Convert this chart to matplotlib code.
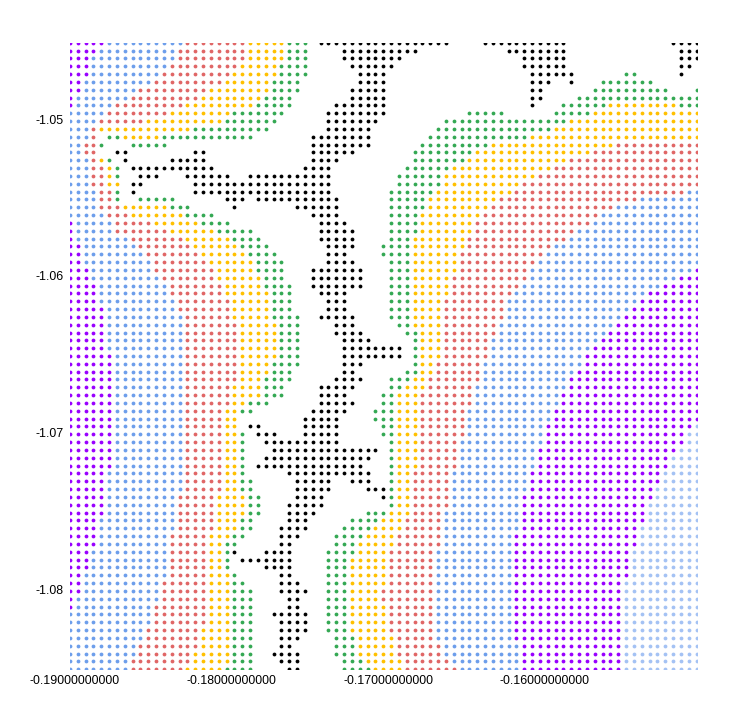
import matplotlib
matplotlib.use('Agg')
import matplotlib.pyplot as plt

plt.rcParams['font.family'] = ['Liberation Sans', 'DejaVu Sans']

# each row: class letter + last column of that run, '.' means no point there
rows = [
    "P4 B14 R22 Y27 G30 .31 K48 .52 K63 .76 K80",
    "P3 B13 R22 Y27 G30 .34 K44 .55 K63 .77 K80",
    "P2 B13 R22 Y27 G30 .34 K42 .57 K63 .77 K80",
    "P2 B12 R21 Y26 G30 .35 K41 .57 K63 .77 K79",
    "P2 B11 R20 Y26 G30 .36 K40 .58 K64 .70 G72 .77 K78",
    "P1 B10 R19 Y25 G29 .36 K40 .58 K61 .63 K64 .67 G74",
    "P1 B8 R17 Y25 G29 .35 K40 .58 K60 .66 G76 .79 G80",
    "P0 B7 R16 Y24 G28 .35 K40 .58 K60 .64 G80",
    "P0 B5 R14 Y23 G28 .33 K40 .58 K59 .62 G68 Y77 G80",
    "B4 R12 Y20 G27 .32 K40 .50 G55 .61 G66 Y80",
    "B3 R9 Y19 G26 .32 K39 .47 G63 Y80",
    "B2 R3 Y15 G25 .32 K38 .46 G61 Y80",
    "B2 R3 .4 G6 Y11 G23 .30 K38 .45 G58 Y80",
    "B1 R3 G4 .7 G12 .30 K38 .44 G53 Y69 R80",
    "B1 R3 .5 K7 .15 K17 .30 K36 .43 G51 Y66 R80",
    "B2 R3 Y4 G5 .6 K7 .12 K17 .30 K34 .43 G50 Y63 R80",
    "B2 R4 Y5 G6 .7 K18 .29 K33 .42 G48 Y61 R80",
    "B2 R4 Y5 G6 .8 K11 .14 K20 .22 K33 .41 G47 Y59 R80",
    "B2 R4 Y6 .7 K9 .15 K33 .41 G47 Y57 R80",
    "B3 R5 G6 .7 K8 .15 K33 .40 G46 Y56 R78 B80",
    "B3 R5 G6 .8 G13 .19 K22 .23 K34 .40 G45 Y54 R72 B80",
    "B3 R6 Y12 G15 .20 K21 .28 K34 .40 G45 Y53 R69 B80",
    "B4 R7 Y14 G18 .30 K34 .40 G44 Y52 R67 B80",
    "P0 B5 R10 Y16 G20 .31 K35 .40 G44 Y51 R66 B80",
    "P0 B5 R12 Y18 G23 .31 K36 .40 G44 Y51 R64 B80",
    "P0 B7 R14 Y20 G24 .31 K36 .40 G43 Y50 R63 B80",
    "P1 B8 R15 Y21 G25 .32 K36 .39 G43 Y50 R61 B80",
    "P1 B9 R16 Y22 G26 .32 K35 .39 G43 Y49 R60 B80",
    "P1 B10 R17 Y23 G27 .32 K36 .40 G43 Y49 R59 B80",
    "P2 B10 R18 Y23 G27 .30 K37 .40 G43 Y49 R58 B79 P80",
    "P2 B11 R18 Y24 G27 .30 K37 .40 G43 Y48 R58 B77 P80",
    "P3 B12 R19 Y24 G28 .30 K37 .40 G43 Y48 R57 B75 P80",
    "P3 B12 R19 Y25 G28 .31 K35 .40 G43 Y48 R56 B73 P80",
    "P3 B13 R20 Y25 G28 .32 K35 .40 G43 Y47 R55 B72 P80",
    "P4 B13 R20 Y25 G28 .32 K35 .40 G43 Y47 R55 B71 P80",
    "P4 B14 R20 Y25 G29 .31 K36 .40 G43 Y47 R55 B70 P80",
    "P4 B14 R21 Y26 G29 .33 K36 .41 G43 Y47 R54 B69 P80",
    "P4 B14 R21 Y26 G29 .33 K37 .42 G44 Y47 R54 B68 P80",
    "P4 B14 R21 Y26 G29 .34 K38 .43 G44 Y47 R53 B67 P80",
    "P4 B14 R21 Y26 G29 .34 K42 .43 G44 Y47 R53 B66 P80",
    "P5 B14 R21 Y26 G29 .34 K42 .43 G44 Y47 R53 B65 P80",
    "P5 B14 R21 Y25 G29 .34 K37 .43 G44 Y46 R52 B65 P80",
    "P5 B14 R21 Y25 G28 .34 K36 .42 G44 Y46 R52 B64 P80",
    "P5 B14 R21 Y24 G28 .33 K37 .40 G43 Y45 R52 B63 P80",
    "P5 B14 R20 Y24 G27 .31 K36 .40 G42 Y45 R51 B63 P80",
    "P5 B14 R20 Y24 G27 .31 K35 .39 G41 Y44 R51 B62 P80",
    "P5 B14 R20 Y22 G25 .31 K36 .39 G41 Y44 R51 B62 P80",
    "P5 B14 R19 Y21 G23 .30 K35 .38 G41 Y44 R50 B61 P80",
    "P5 B14 R19 Y21 .29 K34 .38 G41 Y44 R50 B61 P80",
    "P5 B14 R19 Y21 .22 K24 .29 K34 .39 G41 Y44 R50 B60 P79 L80",
    "P5 B14 R19 Y21 G22 .23 K26 .29 K34 .39 G41 Y44 R50 B60 P78 L80",
    "P5 B14 R19 Y21 G22 .24 K34 .40 G41 Y44 R49 B60 P78 L80",
    "P5 B14 R19 Y21 G22 .25 K39 .40 G41 Y44 R49 B59 P77 L80",
    "P5 B14 R19 Y21 G22 .24 K38 .40 G41 Y44 R49 B59 P76 L80",
    "P5 B14 R19 Y21 G22 .23 K37 .40 G41 Y44 R49 B59 P76 L80",
    "P4 B14 R19 Y21 G22 .27 K38 .40 G41 Y43 R48 B58 P75 L80",
    "P4 B14 R19 Y21 G23 .28 K33 .35 K38 .40 G41 Y43 R48 B58 P75 L80",
    "P4 B14 R19 Y21 G23 .28 K33 .37 K40 G41 Y43 R48 B58 P74 L80",
    "P4 B13 R18 Y22 G24 .28 K32 .39 K40 G41 Y43 R48 B57 P74 L80",
    "P4 B13 R18 Y22 G24 .27 K32 .40 G41 Y43 R48 B57 P73 L80",
    "P4 B13 R18 Y22 G24 .27 K31 .37 G40 Y43 R47 B57 P73 L80",
    "P3 B13 R18 Y21 G23 .27 K30 .35 G39 Y42 R47 B57 P73 L80",
    "P3 B13 R18 Y21 G23 .26 K30 .34 G38 Y42 R47 B57 P72 L80",
    "P3 B12 R17 Y20 G22 .26 K29 .33 G37 Y41 R47 B56 P72 L80",
    "P3 B12 R17 Y19 G21 .26 K28 .33 G36 Y41 R47 B56 P72 L80",
    "P2 B12 R17 Y19 G20 K21 .24 K28 .32 G36 Y40 R46 B56 P71 L80",
    "P2 B12 R17 Y19 G20 .21 K28 .32 G35 Y40 R46 B56 P71 L80",
    "P2 B12 R17 Y19 G20 .24 K28 .32 G35 Y40 R46 B56 P71 L80",
    "P1 B12 R17 Y20 G21 .26 K28 .32 G35 Y40 R46 B56 P71 L80",
    "P1 B11 R17 Y20 G22 .26 K29 .32 G35 Y40 R46 B56 P70 L80",
    "P1 B11 R17 Y20 G23 .26 K30 .32 G35 Y39 R46 B56 P70 L80",
    "P0 B11 R17 Y20 G23 .27 K29 .32 G35 Y39 R46 B56 P70 L80",
    "P0 B10 R17 Y20 G23 .27 K29 .32 G35 Y40 R46 B56 P70 L80",
    "B10 R17 Y20 G23 .25 K30 .32 G35 Y40 R46 B56 P70 L80",
    "B10 R17 Y20 G23 .26 K30 .32 G35 Y40 R46 B56 P70 L80",
    "B9 R16 Y20 G23 .26 K30 .32 G35 Y40 R46 B56 P70 L80",
    "B9 R16 Y20 G23 .26 K29 .33 G36 Y41 R46 B56 P70 L80",
    "B8 R16 Y20 G23 .26 K28 .33 G36 Y41 R47 B57 P70 L80",
    "B8 R15 Y20 G23 .25 K29 .33 G36 Y41 R47 B57 P70 L80",
    "B7 R15 Y20 G23 .26 K29 .34 G37 Y42 R48 B57 P70 L80",
    "B7 R14 Y19 G23 .27 K29 .34 G38 Y42 R49 B57 P70 L80",
]

colors = {'P': '#9900ff', 'B': '#6d9eeb', 'L': '#a4c2f4', 'R': '#e06666',
          'Y': '#ffc000', 'G': '#34a853', 'K': '#000000'}

x_ticks = [-0.19, -0.18, -0.17, -0.16]
y_ticks = [-1.05, -1.06, -1.07, -1.08]
x_labels = ['-0.19000000000', '-0.18000000000', '-0.17000000000', '-0.16000000000']
y_labels = ['-1.05', '-1.06', '-1.07', '-1.08']

x_start = -0.19032
y_start = -1.04512
step = 0.0005

# run lists -> point lists per class
points = {c: ([], []) for c in colors}
for r, row in enumerate(rows):
    col = 0
    for token in row.split():
        last = int(token[1:])
        if token[0] != '.':
            for c in range(col, last + 1):
                points[token[0]][0].append(x_start + c * step)
                points[token[0]][1].append(y_start - r * step)
        col = last + 1

fig = plt.figure(figsize=(7.34, 7.25), dpi=100)
ax = fig.add_axes([70 / 734, 1 - 669.2 / 725, 626.6 / 734, 626.4 / 725])

for c in colors:
    ax.scatter(points[c][0], points[c][1], s=7.5, c=colors[c], linewidths=0)

ax.set_xlim(x_start, x_start + 80 * step)
ax.set_ylim(y_start - 80 * step, y_start)
ax.set_xticks(x_ticks)
ax.set_xticklabels(x_labels)
ax.set_yticks(y_ticks)
ax.set_yticklabels(y_labels)
ax.tick_params(length=0, labelsize=8.9, pad=4.5, colors='#000000')
for s in ax.spines.values():
    s.set_visible(False)

fig.savefig('out.png', dpi=100)
